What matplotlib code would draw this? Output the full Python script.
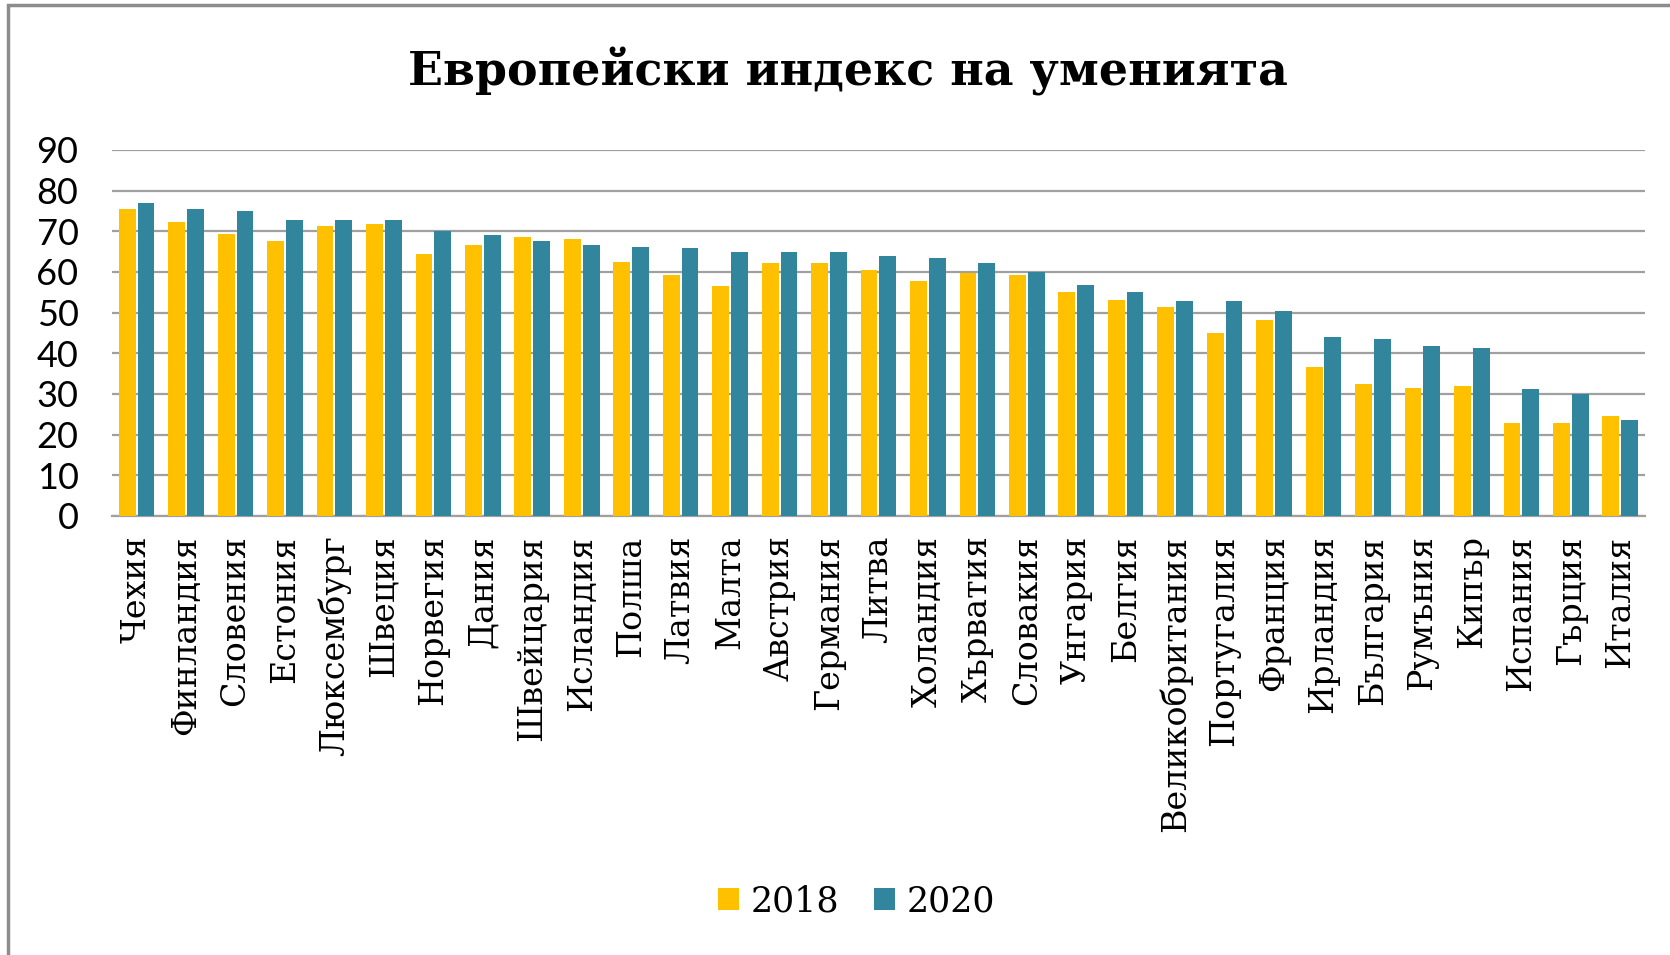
import numpy as np
import matplotlib
matplotlib.use("Agg")
import matplotlib.pyplot as plt
from matplotlib.patches import Rectangle

# European skills index, 2018 vs 2020
countries = ["Чехия", "Финландия", "Словения", "Естония", "Люксембург", "Швеция",
             "Норвегия", "Дания", "Швейцария", "Исландия", "Полша", "Латвия",
             "Малта", "Австрия", "Германия", "Литва", "Холандия", "Хърватия",
             "Словакия", "Унгария", "Белгия", "Великобритания", "Португалия",
             "Франция", "Ирландия", "България", "Румъния", "Кипър", "Испания",
             "Гърция", "Италия"]
v2018 = [75.4, 72.2, 69.4, 67.6, 71.2, 71.7, 64.3, 66.7, 68.5, 68.1, 62.5, 59.2,
         56.5, 62.1, 62.1, 60.6, 57.8, 59.7, 59.2, 55.1, 53.2, 51.4, 45.0, 48.2,
         36.7, 32.4, 31.5, 32.0, 22.8, 22.8, 24.6]
v2020 = [76.9, 75.4, 75.0, 72.7, 72.7, 72.7, 70.1, 69.0, 67.6, 66.7, 66.2, 65.8,
         64.8, 64.8, 64.8, 63.9, 63.4, 62.1, 60.1, 56.9, 55.1, 52.8, 52.8, 50.4,
         44.1, 43.6, 41.7, 41.3, 31.1, 29.9, 23.7]
series = ["2018", "2020"]
yticks = [0, 10, 20, 30, 40, 50, 60, 70, 80, 90]

c18 = "#FFC000"
c20 = "#31859C"
serif = ["DejaVu Serif"]

fig = plt.figure(figsize=(16.7, 9.55), dpi=100)
ax = fig.add_axes([0.067, 0.4597, 0.918, 0.3833])

x = np.arange(len(countries))
w = 0.34
ax.bar(x - 0.19, v2018, width=w, color=c18, label=series[0], zorder=3)
ax.bar(x + 0.19, v2020, width=w, color=c20, label=series[1], zorder=3)

ax.set_xlim(-0.5, len(countries) - 0.5)
ax.set_ylim(0, 90)
ax.set_yticks(yticks)
ax.set_yticklabels([str(t) for t in yticks], fontsize=26, family=["Lato"])
ax.set_xticks(x)
ax.set_xticklabels(countries, rotation=90, fontsize=24, family=serif)
ax.tick_params(length=0)
ax.tick_params(axis="x", pad=14)
ax.tick_params(axis="y", pad=24)

ax.grid(axis="y", color="#A0A0A0", linewidth=1.6, zorder=0)
for s in ["top", "right", "left"]:
    ax.spines[s].set_visible(False)
ax.spines["bottom"].set_color("#A0A0A0")
ax.spines["bottom"].set_linewidth(1.6)

fig.text(0.508, 0.925, "Европейски индекс на уменията", ha="center", va="center",
         fontsize=33, fontweight="bold", family=serif)

fig.legend(loc="center", bbox_to_anchor=(0.513, 0.056), ncol=2, frameon=False,
           prop={"family": serif[0], "size": 25}, handlelength=0.6, handleheight=0.6,
           handletextpad=0.35, columnspacing=1.0)

fig.patches.append(Rectangle((0.005, -0.05), 1.1, 1.045, transform=fig.transFigure,
                             fill=False, edgecolor="#8C8C8C", linewidth=2.5))

fig.savefig("out.png", dpi=100)
